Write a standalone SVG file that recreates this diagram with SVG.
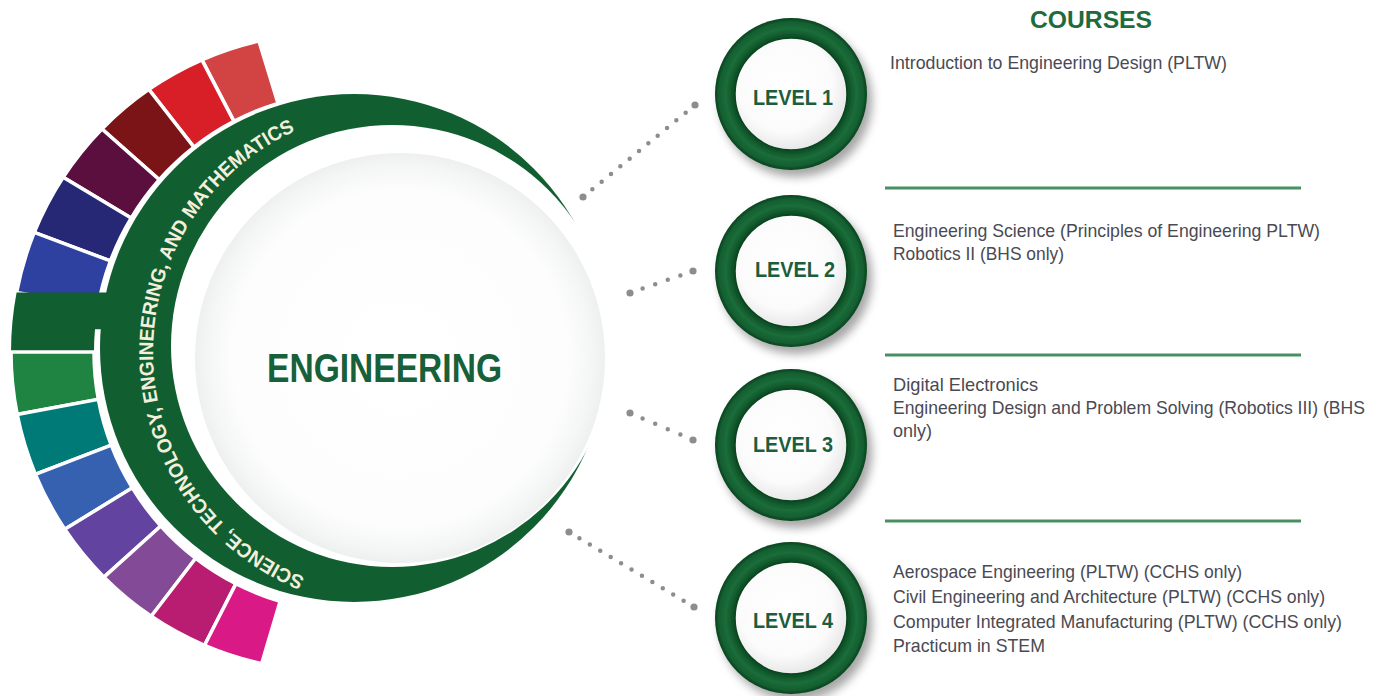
<svg xmlns="http://www.w3.org/2000/svg" width="1384" height="696" viewBox="0 0 1384 696">
<defs>
<style>
.seg{stroke:#ffffff;stroke-width:3.5;stroke-linejoin:miter}
.course{font-family:'Liberation Sans',Arial,sans-serif;font-size:19px;fill:#4a4a54}
.lvl{font-family:'Liberation Sans',Arial,sans-serif;font-weight:bold;font-size:22px;fill:#1b5e3e;text-anchor:middle}
.dots{stroke:#8d8d8d;stroke-width:4.5;stroke-linecap:round;fill:none}
.enddot{fill:#8d8d8d}
.rule{stroke:#4a8f63;stroke-width:3}
.ring{fill:url(#lvlRing)}
.disc{fill:url(#lvlDisc);stroke:#0b4520;stroke-width:1.5}
</style>
<radialGradient id="lvlRing">
<stop offset="0.72" stop-color="#0b4520"/>
<stop offset="0.77" stop-color="#0f5328"/>
<stop offset="0.86" stop-color="#1b6d3a"/>
<stop offset="0.95" stop-color="#135e30"/>
<stop offset="1" stop-color="#0a421e"/>
</radialGradient>
<radialGradient id="lvlDisc" cx="0.45" cy="0.42" r="0.6">
<stop offset="0" stop-color="#ffffff"/>
<stop offset="0.7" stop-color="#fbfbfb"/>
<stop offset="1" stop-color="#e6e6e6"/>
</radialGradient>
<radialGradient id="mainDisc" cx="0.5" cy="0.5" r="0.5">
<stop offset="0" stop-color="#ffffff"/>
<stop offset="0.82" stop-color="#fdfdfd"/>
<stop offset="0.94" stop-color="#f4f5f5"/>
<stop offset="1" stop-color="#eeefef"/>
</radialGradient>
<filter id="shadow" x="-30%" y="-30%" width="170%" height="170%">
<feDropShadow dx="5" dy="7" stdDeviation="5" flood-color="#000000" flood-opacity="0.35"/>
</filter>
<path id="ringPath" d="M304.97,577.3 A243,243 0 0 1 304.97,126.7"/>
</defs>

<g id="segments">
<path class="seg" fill="#d24444" d="M258.92,41.02 A319,319 0 0 0 201.91,59.85 L233.94,121.38 A260,260 0 0 1 277.98,103.36 Z"/>
<path class="seg" fill="#d81f27" d="M201.91,59.85 A319,319 0 0 0 148.85,89.42 L193.93,147.12 A260,260 0 0 1 233.94,121.38 Z"/>
<path class="seg" fill="#7a1416" d="M148.85,89.42 A319,319 0 0 0 101.92,128.98 L159.27,179.72 A260,260 0 0 1 193.93,147.12 Z"/>
<path class="seg" fill="#5b0f3e" d="M101.92,128.98 A319,319 0 0 0 63.13,177.23 L131.14,218.09 A260,260 0 0 1 159.27,179.72 Z"/>
<path class="seg" fill="#262876" d="M63.13,177.23 A319,319 0 0 0 34.25,232.45 L110.47,260.95 A260,260 0 0 1 131.14,218.09 Z"/>
<path class="seg" fill="#2f41a0" d="M34.25,232.45 A319,319 0 0 0 16.59,292.51 L97.95,306.85 A260,260 0 0 1 110.47,260.95 Z"/>
<path fill="#115f30" d="M16.59,292.51 A319,319 0 0 0 11,352 L94,352 A260,260 0 0 1 94.99,329.34 L130,329.34 L130,292.51 Z"/>
<path class="seg" fill="#1f8442" d="M11,352 A319,319 0 0 0 17.17,414.43 L98.35,399.38 A260,260 0 0 1 94,352 Z"/>
<path class="seg" fill="#007a76" d="M17.17,414.43 A319,319 0 0 0 35.37,474.31 L111.27,445.18 A260,260 0 0 1 98.35,399.38 Z"/>
<path class="seg" fill="#3660b0" d="M35.37,474.31 A319,319 0 0 0 64.78,529.24 L132.31,487.85 A260,260 0 0 1 111.27,445.18 Z"/>
<path class="seg" fill="#6343a0" d="M64.78,529.24 A319,319 0 0 0 103.98,577.12 L160.78,525.97 A260,260 0 0 1 132.31,487.85 Z"/>
<path class="seg" fill="#834b97" d="M103.98,577.12 A319,319 0 0 0 151.26,616.22 L195.72,558.27 A260,260 0 0 1 160.78,525.97 Z"/>
<path class="seg" fill="#b81d72" d="M151.26,616.22 A319,319 0 0 0 204.56,645.3 L235.96,583.66 A260,260 0 0 1 195.72,558.27 Z"/>
<path class="seg" fill="#d91a86" d="M204.56,645.3 A319,319 0 0 0 261.7,663.61 L280.15,601.29 A260,260 0 0 1 235.96,583.66 Z"/>
</g>

<g id="stem-ring">
<circle cx="354" cy="348" r="254" fill="#115f30"/>
<circle cx="392" cy="346" r="221" fill="#ffffff"/>
<text font-family="'Liberation Sans',Arial,sans-serif" font-weight="bold" font-size="20" fill="#f3efdc"><textPath href="#ringPath" textLength="566" lengthAdjust="spacingAndGlyphs">SCIENCE, TECHNOLOGY, ENGINEERING, AND MATHEMATICS</textPath></text>
</g>

<g id="engineering">
<circle cx="400" cy="358" r="205" fill="url(#mainDisc)"/>
<text x="267" y="382" font-family="'Liberation Sans',Arial,sans-serif" font-weight="bold" font-size="40" fill="#17603a" textLength="235" lengthAdjust="spacingAndGlyphs">ENGINEERING</text>
</g>

<g id="connectors">
<path class="dots" d="M583,197 L695,105" stroke-dasharray="0 12.08"/>
<path class="dots" d="M630,293 L693,271" stroke-dasharray="0 13.34"/>
<path class="dots" d="M630,413 L693,440" stroke-dasharray="0 13.7"/>
<path class="dots" d="M569,532 L694,607" stroke-dasharray="0 12.15"/>
<circle class="enddot" cx="583" cy="197" r="3.6"/>
<circle class="enddot" cx="695" cy="105" r="3.6"/>
<circle class="enddot" cx="630" cy="293" r="3.6"/>
<circle class="enddot" cx="693" cy="271" r="3.6"/>
<circle class="enddot" cx="630" cy="413" r="3.6"/>
<circle class="enddot" cx="693" cy="440" r="3.6"/>
<circle class="enddot" cx="569" cy="532" r="3.6"/>
<circle class="enddot" cx="694" cy="607" r="3.6"/>
</g>

<g id="level1">
<circle class="ring" cx="791" cy="94" r="76" filter="url(#shadow)"/>
<circle class="disc" cx="791" cy="94" r="56"/>
<text class="lvl" x="793" y="105" textLength="80" lengthAdjust="spacingAndGlyphs">LEVEL 1</text>
</g>
<g id="level2">
<circle class="ring" cx="791" cy="271" r="76" filter="url(#shadow)"/>
<circle class="disc" cx="791" cy="271" r="56"/>
<text class="lvl" x="795" y="277" textLength="80" lengthAdjust="spacingAndGlyphs">LEVEL 2</text>
</g>
<g id="level3">
<circle class="ring" cx="791" cy="445" r="76" filter="url(#shadow)"/>
<circle class="disc" cx="791" cy="445" r="56"/>
<text class="lvl" x="793" y="452" textLength="80" lengthAdjust="spacingAndGlyphs">LEVEL 3</text>
</g>
<g id="level4">
<circle class="ring" cx="791" cy="618" r="76" filter="url(#shadow)"/>
<circle class="disc" cx="791" cy="618" r="56"/>
<text class="lvl" x="793" y="628" textLength="80" lengthAdjust="spacingAndGlyphs">LEVEL 4</text>
</g>

<g id="courses">
<text x="1030" y="28" font-family="'Liberation Sans',Arial,sans-serif" font-weight="bold" font-size="24" fill="#1e6b3e" textLength="122" lengthAdjust="spacingAndGlyphs">COURSES</text>
<text class="course" x="890" y="69" textLength="337" lengthAdjust="spacingAndGlyphs">Introduction to Engineering Design (PLTW)</text>
<line class="rule" x1="885" y1="188" x2="1301" y2="188"/>
<text class="course" x="893" y="237" textLength="427" lengthAdjust="spacingAndGlyphs">Engineering Science (Principles of Engineering PLTW)</text>
<text class="course" x="893" y="260" textLength="171" lengthAdjust="spacingAndGlyphs">Robotics II (BHS only)</text>
<line class="rule" x1="885" y1="355" x2="1301" y2="355"/>
<text class="course" x="893" y="391" textLength="145" lengthAdjust="spacingAndGlyphs">Digital Electronics</text>
<text class="course" x="893" y="414" font-size="17.5" textLength="472" lengthAdjust="spacingAndGlyphs">Engineering Design and Problem Solving (Robotics III) (BHS</text>
<text class="course" x="893" y="437" textLength="39" lengthAdjust="spacingAndGlyphs">only)</text>
<line class="rule" x1="885" y1="521" x2="1301" y2="521"/>
<text class="course" x="893" y="578" textLength="349" lengthAdjust="spacingAndGlyphs">Aerospace Engineering (PLTW) (CCHS only)</text>
<text class="course" x="893" y="603" textLength="432" lengthAdjust="spacingAndGlyphs">Civil Engineering and Architecture (PLTW) (CCHS only)</text>
<text class="course" x="893" y="628" textLength="449" lengthAdjust="spacingAndGlyphs">Computer Integrated Manufacturing (PLTW) (CCHS only)</text>
<text class="course" x="893" y="652" textLength="152" lengthAdjust="spacingAndGlyphs">Practicum in STEM</text>
</g>
</svg>
